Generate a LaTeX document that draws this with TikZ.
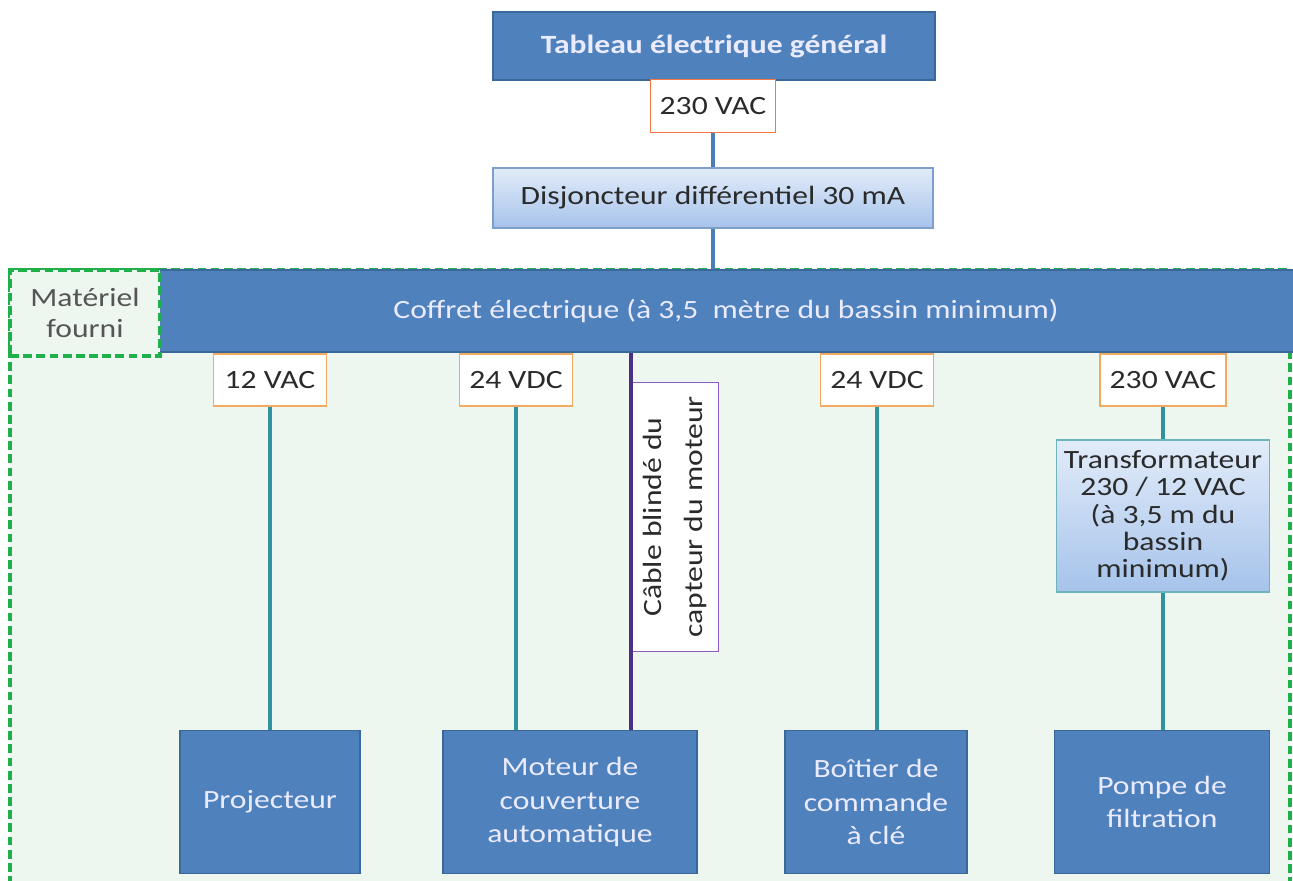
\documentclass[tikz,border=0pt]{standalone}
\usepackage{fontspec}
\setmainfont{Carlito}[FakeStretch=1.2]
\usetikzlibrary{positioning, calc}
\definecolor{boxblue}{HTML}{4F81BD}
\definecolor{boxedge}{HTML}{3A6899}
\definecolor{paleblue}{HTML}{E2ECF9}
\definecolor{skyblue}{HTML}{A6C3EB}
\definecolor{paleedge}{HTML}{7D9FCC}
\definecolor{mint}{HTML}{EDF7EF}
\definecolor{leaf}{HTML}{1FB04C}
\definecolor{tealwire}{HTML}{31939E}
\definecolor{bluewire}{HTML}{4A7EBB}
\definecolor{plum}{HTML}{4B3184}
\definecolor{violet}{HTML}{8C5BC4}
\definecolor{amber}{HTML}{F2AA60}
\definecolor{inkgray}{HTML}{2A2A2A}

\begin{document}
\begin{tikzpicture}[x=0.02cm, y=-0.02cm, line width=2pt,
  darkbox/.style={draw=boxedge, line width=0.8pt, fill=boxblue, text=white!92!blue,
    align=center, inner sep=2pt, font=\fontsize{15}{19}\selectfont},
  lightbox/.style={draw=paleedge, line width=0.8pt, top color=paleblue, bottom color=skyblue,
    text=inkgray, align=center, inner sep=2pt, font=\fontsize{15}{15.5}\selectfont},
  volt/.style={draw=amber, line width=0.8pt, fill=white, text=inkgray,
    inner sep=0pt, font=\fontsize{15}{16}\selectfont},
  wire/.style={tealwire, line width=2pt},
]

% Frame
\useasboundingbox (0,0) rectangle (1293,881);
\clip (0,0) rectangle (1293,881);
\fill[mint] (10,270) rectangle (1290,900);
\draw[leaf, line width=1.8pt, dash pattern=on 5pt off 2.5pt] (10,270) rectangle (1290,900);

% Top of the supply
\node[darkbox, font=\bfseries\fontsize{15}{16}\selectfont,
  minimum width=8.84cm, minimum height=1.36cm] (tableau) at (714,46) {Tableau électrique général};
\node[volt, draw=amber!70!red, minimum width=2.5cm, minimum height=1.06cm] (v0) at (713,106) {230 VAC};
\node[lightbox, minimum width=8.8cm, minimum height=1.2cm] (disj) at (713,198) {Disjoncteur différentiel 30 mA};
\node[darkbox, minimum width=22.8cm, minimum height=1.64cm] (coffret) at (726,311)
  {Coffret électrique (à 3,5\ \ mètre du bassin minimum)};

\draw[bluewire] (v0.south) -- (v0.south |- disj.north);
\draw[bluewire] (v0.south |- disj.south) -- (v0.south |- coffret.north);

% Supplied equipment tag
\node[draw=leaf, line width=1.8pt, dash pattern=on 5pt off 2.5pt, fill=mint, text=inkgray!80,
  align=center, font=\fontsize{15}{18}\selectfont,
  minimum width=3cm, minimum height=1.72cm] (fourni) at (85,313) {Matériel\\fourni};

% Voltage tags
\node[volt, minimum width=2.26cm, minimum height=1.04cm] (v12) at (270,380) {12 VAC};
\node[volt, minimum width=2.26cm, minimum height=1.04cm] (v24a) at (516,380) {24 VDC};
\node[volt, minimum width=2.26cm, minimum height=1.04cm] (v24b) at (877,380) {24 VDC};
\node[volt, minimum width=2.52cm, minimum height=1.04cm] (v230) at (1163,380) {230 VAC};

% Equipment
\node[darkbox, minimum width=3.6cm, minimum height=2.86cm] (proj) at (270,802) {Projecteur};
\node[darkbox, minimum width=5.08cm, minimum height=2.86cm] (moteur) at (570,802) {Moteur de\\couverture\\automatique};
\node[darkbox, minimum width=3.64cm, minimum height=2.86cm] (boitier) at (876,802) {Boîtier de\\commande\\à clé};
\node[darkbox, minimum width=4.3cm, minimum height=2.86cm] (pompe) at (1162,802) {Pompe de\\filtration};
\node[lightbox, draw=tealwire!70, minimum width=4.26cm, minimum height=3.04cm] (trans) at (1163,516)
  {Transformateur\\230 / 12 VAC\\(à 3,5 m du\\bassin\\minimum)};

% Wiring
\draw[wire] (v12.south) -- (v12.south |- proj.north);
\draw[wire] (v24a.south) -- (v24a.south |- moteur.north);
\draw[wire] (v24b.south) -- (v24b.south |- boitier.north);
\draw[wire] (v230.south) -- (v230.south |- trans.north);
\draw[wire] (v230.south |- trans.south) -- (v230.south |- pompe.north);

% Shielded sensor cable
\node[draw=violet, line width=0.8pt, fill=white, text=inkgray, rotate=90, align=center,
  inner sep=0pt, font=\fontsize{15}{23.8}\selectfont,
  minimum width=5.38cm, minimum height=1.74cm] (cable) at (675,517) {Câble blindé du\\capteur du moteur};
\draw[plum] (cable.north |- coffret.south) -- (cable.north |- moteur.north);

\end{tikzpicture}
\end{document}
